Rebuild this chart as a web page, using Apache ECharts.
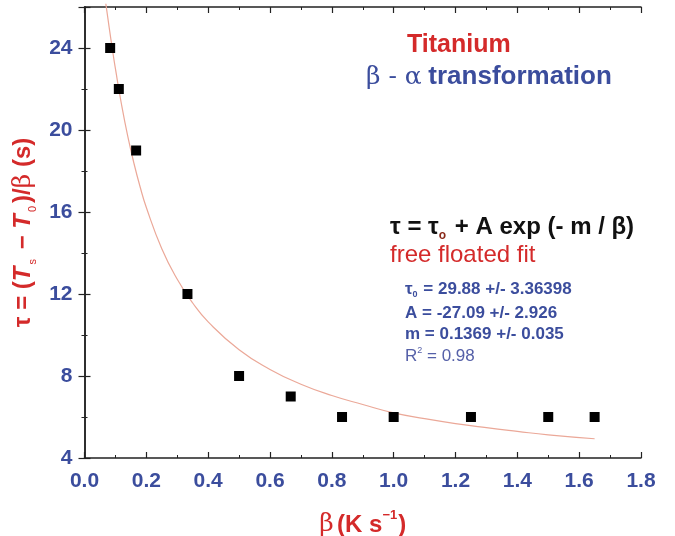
<!DOCTYPE html>
<html><head><meta charset="utf-8">
<script src="https://cdn.jsdelivr.net/npm/echarts@6/dist/echarts.min.js"></script>
<style>html,body{margin:0;padding:0;background:#fff}#c{width:675px;height:536px}</style>
</head><body><div id="c"></div>
<script>
// Measured data (beta, tau)
const betaValues = [0.083, 0.111, 0.167, 0.333, 0.5, 0.667, 0.833, 1.0, 1.25, 1.5, 1.65];
const tauValues  = [24, 22, 19, 12, 8, 7, 6, 6, 6, 6, 6];
// Fit curve
const fitBeta = [0.069, 0.08, 0.09, 0.1, 0.12, 0.14, 0.16, 0.18, 0.2, 0.25, 0.3, 0.35, 0.4, 0.5, 0.6, 0.7, 0.8, 0.9, 1.0, 1.1, 1.2, 1.3, 1.4, 1.5, 1.65];
const fitTau  = [26.16, 24.98, 23.96, 22.99, 21.22, 19.69, 18.37, 17.22, 16.22, 14.21, 12.72, 11.56, 10.64, 9.28, 8.32, 7.60, 7.05, 6.61, 6.20, 5.92, 5.68, 5.48, 5.30, 5.13, 4.94];
const xTicks = {min: 0, max: 1.8, interval: 0.2};
const yTicks = {min: 4, max: 26, interval: 4};

const blue = '#3b4d9d', red = '#d42a2a';
const font = 'Liberation Sans, Arial, sans-serif';
const chart = echarts.init(document.getElementById('c'));
const axisLine = {show: true, lineStyle: {color: '#222', width: 1.5}};
const tick = {show: true, inside: true, length: 6, lineStyle: {color: '#222', width: 1.2}};
const minor = {show: true, splitNumber: 2, length: 3, lineStyle: {color: '#222', width: 1}};
chart.setOption({
  animation: false,
  grid: {left: 84.5, right: 34, top: 7, bottom: 78, containLabel: false, outerBoundsMode: 'none'},
  xAxis: [{
    type: 'value', min: xTicks.min, max: xTicks.max, interval: xTicks.interval,
    axisLine, axisTick: tick, minorTick: minor, splitLine: {show: false},
    axisLabel: {color: blue, fontSize: 21, fontWeight: 'bold', fontFamily: font, margin: 13,
      formatter: v => v.toFixed(1)},
    name: '{g|β} {b|(K s}{sup|−1}{b|)}', nameLocation: 'middle', nameGap: 51,
    nameTextStyle: {rich: {
      g: {color: red, fontSize: 25, fontFamily: 'DejaVu Serif, serif', lineHeight: 28, verticalAlign: 'bottom'},
      b: {color: red, fontSize: 24, fontWeight: 'bold', fontFamily: font, lineHeight: 28, verticalAlign: 'bottom'},
      sup: {color: red, fontSize: 13, fontWeight: 'bold', fontFamily: font, verticalAlign: 'top', lineHeight: 28, padding: [0,1,12,0]}
    }}
  }, {
    type: 'value', position: 'top', min: xTicks.min, max: xTicks.max, interval: xTicks.interval,
    axisLine, axisTick: tick, minorTick: minor, splitLine: {show: false}, axisLabel: {show: false}
  }],
  yAxis: [{
    type: 'value', min: yTicks.min, max: yTicks.max, interval: yTicks.interval,
    axisLine, axisTick: tick, minorTick: minor, splitLine: {show: false},
    axisLabel: {color: blue, fontSize: 21, fontWeight: 'bold', fontFamily: font, margin: 12, showMaxLabel: false},
    name: '{b|τ = (}{i|T}{sub|s}{b| − }{i|T}{sub|0}{b|)/}{g|β}{b| (s)}', nameLocation: 'middle', nameGap: 42,
    nameTextStyle: {rich: {
      b: {color: red, fontSize: 24, fontWeight: 'bold', fontFamily: font, lineHeight: 30, verticalAlign: 'middle'},
      g: {color: red, fontSize: 25, fontFamily: 'DejaVu Serif, serif', lineHeight: 30, verticalAlign: 'middle'},
      i: {color: red, fontSize: 24, fontWeight: 'bold', fontStyle: 'italic', fontFamily: font, lineHeight: 30, verticalAlign: 'middle'},
      sub: {color: red, fontSize: 11, fontFamily: font, lineHeight: 30, verticalAlign: 'bottom', padding: [10,3,0,2]}
    }}
  }, {
    type: 'value', position: 'right', min: yTicks.min, max: yTicks.max, interval: yTicks.interval,
    axisLine, axisTick: tick, minorTick: minor, splitLine: {show: false}, axisLabel: {show: false}
  }],
  series: [{
    type: 'line', data: fitBeta.map((b, i) => [b, fitTau[i]]), smooth: true, showSymbol: false,
    clip: false, lineStyle: {color: '#eba898', width: 1.2}, z: 2
  }, {
    type: 'scatter', data: betaValues.map((b, i) => [b, tauValues[i]]),
    symbol: 'rect', symbolSize: 10, itemStyle: {color: '#000', opacity: 1}, z: 3
  }],
  graphic: [
    {type: 'text', left: 407, top: 33, style: {text: 'Titanium', fill: red, font: 'bold 25px ' + font}},
    {type: 'text', left: 366, top: 64, style: {
      text: '{g|β - α}  {t|transformation}',
      rich: {g: {fill: blue, font: '25px DejaVu Serif, serif'},
             t: {fill: blue, font: 'bold 26px ' + font}}}},
    {type: 'text', left: 390, top: 212, style: {
      text: '{b|τ = τ}{s|o}{b| + A exp (- m / β)}',
      rich: {b: {fill: '#111', font: 'bold 24px ' + font, lineHeight: 30, verticalAlign: 'middle'},
             s: {fill: '#8a2a1a', font: 'bold 12px ' + font, lineHeight: 30, verticalAlign: 'bottom', padding: [18,2,0,0]}}}},
    {type: 'text', left: 390, top: 243, style: {text: 'free floated fit', fill: red, font: '24px ' + font}},
    {type: 'text', left: 405, top: 281, style: {
      text: '{b|τ}{s|0}{b| = 29.88 +/- 3.36398}',
      rich: {b: {fill: blue, font: 'bold 17px ' + font, lineHeight: 20, verticalAlign: 'middle'},
             s: {fill: blue, font: 'bold 9px ' + font, lineHeight: 20, verticalAlign: 'bottom', padding: [7,1,0,0]}}}},
    {type: 'text', left: 405, top: 305, style: {text: 'A = -27.09 +/- 2.926', fill: blue, font: 'bold 17px ' + font}},
    {type: 'text', left: 405, top: 326, style: {text: 'm = 0.1369 +/- 0.035', fill: blue, font: 'bold 17px ' + font}},
    {type: 'text', left: 405, top: 346, style: {
      text: '{b|R}{p|2}{b| = 0.98}',
      rich: {b: {fill: '#5560a8', font: '17px ' + font, lineHeight: 20, verticalAlign: 'middle'},
             p: {fill: '#5560a8', font: '9px ' + font, lineHeight: 20, verticalAlign: 'top'}}}}
  ]
});
</script></body></html>
